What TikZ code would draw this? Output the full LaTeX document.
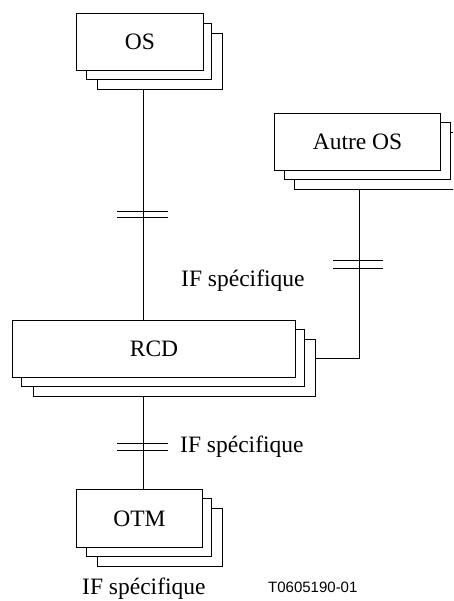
\documentclass[tikz,border=0pt]{standalone}
\usepackage{fontspec}
\setmainfont{Liberation Serif}
\newfontfamily\sansf{Liberation Sans}
\begin{document}
\begin{tikzpicture}[x=1pt,y=-1pt,
  boxr/.style={draw, fill=white, line width=1pt, inner sep=0pt, anchor=north west},
  conn/.style={line width=0.9pt},
  tick/.style={line width=0.9pt},
  lbl/.style={inner sep=0pt, anchor=base west, font=\fontsize{23.5}{28}\selectfont},
  ref/.style={inner sep=0pt, anchor=base west, font=\sansf\fontsize{15}{18}\selectfont}]
\useasboundingbox (0,0) rectangle (453,601);
\fill[white] (0,0) rectangle (453,601);
\clip (0,0) rectangle (453,601);
% OS
\node[boxr, minimum width=125pt, minimum height=56pt] (os3) at (97,33) {};
\node[boxr, minimum width=125pt, minimum height=56pt] (os2) at (86,23) {};
\node[boxr, minimum width=127pt, minimum height=57pt, font=\fontsize{23.5}{28}\selectfont] (os) at (76,13) {OS};
% Autre OS
\node[boxr, minimum width=166pt, minimum height=57pt] (autre3) at (294,132) {};
\node[boxr, minimum width=166pt, minimum height=57pt] (autre2) at (284,122) {};
\node[boxr, minimum width=166pt, minimum height=57pt, font=\fontsize{23.5}{28}\selectfont] (autre) at (274,113) {Autre OS};
% RCD
\node[boxr, minimum width=282pt, minimum height=57pt] (rcd3) at (33,339) {};
\node[boxr, minimum width=283pt, minimum height=57pt] (rcd2) at (21,329) {};
\node[boxr, minimum width=283pt, minimum height=57pt, font=\fontsize{23.5}{28}\selectfont] (rcd) at (12,320) {RCD};
% OTM
\node[boxr, minimum width=125pt, minimum height=58pt] (otm3) at (97,508) {};
\node[boxr, minimum width=125pt, minimum height=58pt] (otm2) at (86,498) {};
\node[boxr, minimum width=126pt, minimum height=58pt, font=\fontsize{23.5}{28}\selectfont] (otm) at (76,489) {OTM};
% connector coordinates
\coordinate (xa) at (143,0);
\coordinate (jct) at (359,358);
\draw[conn] (os3.south -| xa) -- (rcd.north -| xa);
\draw[conn] (rcd3.south -| xa) -- (otm.north -| xa);
\draw[conn] (autre3.south -| jct) -- (jct) -- (rcd3.east |- jct);
% ticks
\coordinate (t1) at (143,214);
\coordinate (t2) at (358,264);
\coordinate (t3) at (143,446.5);
\draw[tick] ([xshift=-26pt,yshift=3pt]t1) -- ([xshift=25pt,yshift=3pt]t1);
\draw[tick] ([xshift=-26pt,yshift=-3pt]t1) -- ([xshift=25pt,yshift=-3pt]t1);
\draw[tick] ([xshift=-25pt,yshift=4pt]t2) -- ([xshift=25pt,yshift=4pt]t2);
\draw[tick] ([xshift=-25pt,yshift=-4pt]t2) -- ([xshift=25pt,yshift=-4pt]t2);
\draw[tick] ([xshift=-26pt,yshift=3.5pt]t3) -- ([xshift=25pt,yshift=3.5pt]t3);
\draw[tick] ([xshift=-26pt,yshift=-3.5pt]t3) -- ([xshift=25pt,yshift=-3.5pt]t3);
% labels
\node[lbl] (l1) at (181,286) {IF spécifique};
\node[lbl] (l2) at (180,452) {IF spécifique};
\node[lbl] (l3) at (82,594) {IF spécifique};
\node[ref] (r1) at (268,592) {T0605190-01};
\end{tikzpicture}
\end{document}
